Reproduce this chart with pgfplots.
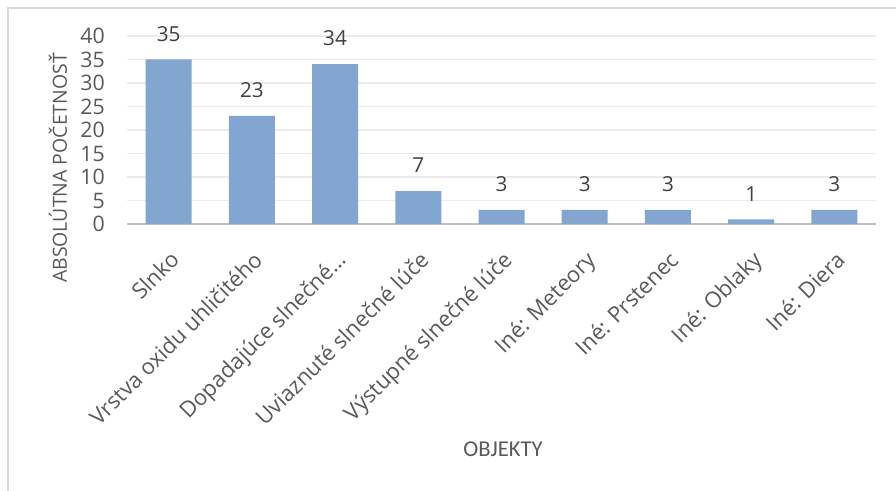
\documentclass[border=0pt]{standalone}
\usepackage{pgfplots}
\pgfplotsset{compat=1.18}
\usepackage{fontspec}
\setmainfont{Open Sans}
\newfontfamily\carlito{Carlito}
\definecolor{barblue}{RGB}{131,166,209}
\definecolor{txt}{RGB}{89,89,89}
\definecolor{lbl}{RGB}{64,64,64}
\definecolor{gridc}{RGB}{235,235,235}
\definecolor{axisgray}{RGB}{191,191,191}
\definecolor{framec}{RGB}{217,217,217}
\begin{document}
\begin{tikzpicture}
\useasboundingbox (0,0) rectangle (672pt,368.25pt);
\draw[framec, line width=1pt] (6pt,-5pt) rectangle (675pt,362.25pt);
\begin{axis}[
  at={(95.25pt,200.25pt)}, anchor=south west,
  width=561.75pt, height=141pt, scale only axis,
  xmin=-0.5, xmax=8.5, ymin=0, ymax=40,
  ytick={0,5,...,40},
  axis x line=bottom, axis y line=left,
  x axis line style={draw=axisgray, line width=2pt, -},
  y axis line style={draw=none},
  ymajorgrids, grid style={draw=gridc, line width=1pt},
  major tick length=0pt,
  /pgf/number format/assume math mode=true,
  yticklabel style={font=\fontsize{16pt}{18pt}\selectfont, text=txt, inner sep=0pt, anchor=east, xshift=-16.5pt},
  xtick=data,
  xticklabels={Slnko, Vrstva oxidu uhličitého, Dopadajúce slnečné…, Uviaznuté slnečné lúče, Výstupné slnečné lúče, Iné: Meteory, Iné: Prstenec, Iné: Oblaky, Iné: Diera},
  xticklabel style={font=\fontsize{16.5pt}{19pt}\selectfont, text=txt, inner sep=0pt, rotate=45, anchor=north east},
  xticklabel shift=19pt,
  ybar, bar width=34.5pt,
  nodes near coords,
  every node near coord/.append style={font=\fontsize{15.5pt}{18pt}\selectfont, text=lbl, inner sep=0pt, anchor=south, yshift=13.5pt},
  clip=false,
]
\addplot[fill=barblue, draw=none] coordinates {(0,35) (1,23) (2,34) (3,7) (4,3) (5,3) (6,3) (7,1) (8,3)};
\end{axis}
\node[rotate=90, text=txt, font=\fontsize{14.6pt}{17pt}\selectfont] at (43.5pt,242.25pt) {ABSOLÚTNA POČETNOSŤ};
\node[text=txt, font=\carlito\fontsize{17pt}{20pt}\selectfont] at (377.25pt,31.5pt) {OBJEKTY};
\end{tikzpicture}
\end{document}
